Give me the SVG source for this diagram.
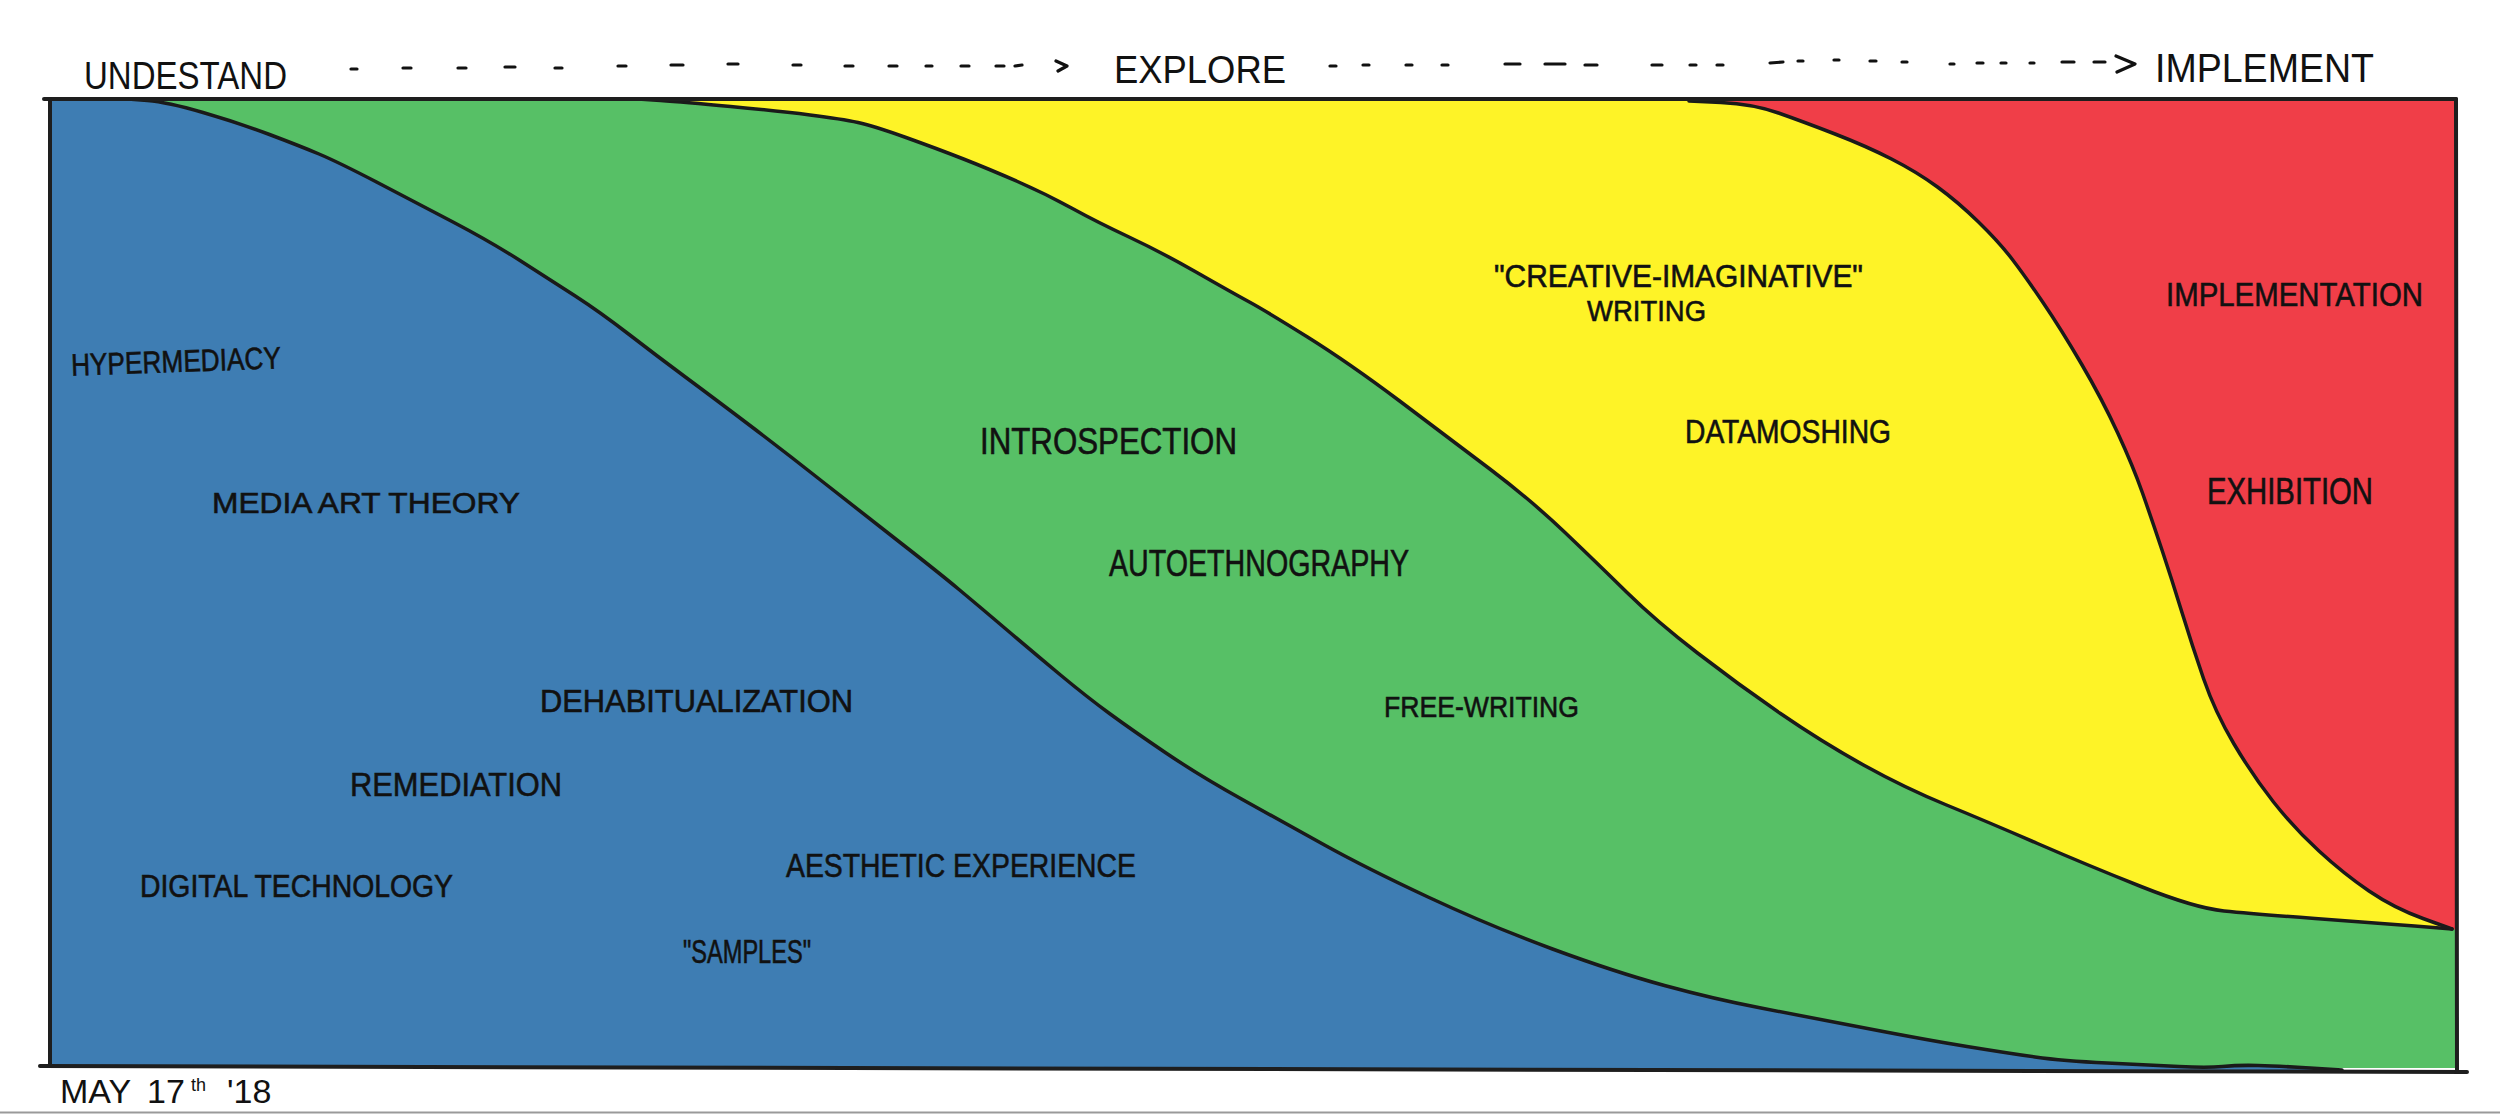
<svg xmlns="http://www.w3.org/2000/svg" width="2500" height="1114" viewBox="0 0 2500 1114">
<style>
.lbl{font-family:"Liberation Sans",Arial,sans-serif;fill:#111}
.node{stroke:#111;stroke-width:0.6}
.edge{fill:none;stroke:#1a1a1a;stroke-width:3.5;stroke-linejoin:round;stroke-linecap:round}
.frame{fill:none;stroke:#1e1e1e;stroke-width:4;stroke-linecap:round}
.dash{fill:none;stroke:#111;stroke-width:3.2;stroke-linecap:round;stroke-linejoin:round}
</style>
<rect width="2500" height="1114" fill="#ffffff"/>
<line x1="0" y1="1112.5" x2="2500" y2="1112.5" stroke="#9a9a9a" stroke-width="2"/>

<g id="regions">
  <rect id="region-explore-green" x="50" y="99" width="2406" height="969" fill="#57c066"/>
  <path id="region-explore-yellow" fill="#fef327" d="M638,99 L660.5,100.5 Q683,102 730.5,106.5 Q778,111 810,115 Q842,119 858,122.5 Q874,126 906,137.5 Q938,149 963.5,159 Q989,169 1017.5,181.5 Q1046,194 1071.5,208 Q1097,222 1129,237 Q1161,252 1196,272 Q1231,292 1248.5,301.5 Q1266,311 1307.5,337 Q1349,363 1399,400.5 Q1449,438 1490.5,469.5 Q1532,501 1565,532.5 Q1598,564 1627,592.5 Q1656,621 1697.5,653 Q1739,685 1780.5,713.5 Q1822,742 1863.5,765 Q1905,788 1946.5,805 Q1988,822 2037.5,843.5 Q2087,865 2141,886.5 Q2195,908 2224,911 Q2253,914 2315,918.5 Q2377,923 2414.5,926 L2456,929 L2456,99 Z"/>
  <path id="region-implement-red" fill="#f03e48" d="M1689,99 L1689,101 L1721,102.5 Q1753,104 1778.5,113 Q1804,122 1835,134 Q1866,146 1891.5,159 Q1917,172 1937.5,187 Q1958,202 1978.5,222 Q1999,242 2012,259 Q2025,276 2043,302.5 Q2061,329 2081.5,364 Q2102,399 2117.5,432.5 Q2133,466 2142.5,493 Q2152,520 2162,550 Q2172,580 2182,612.5 Q2192,645 2203.5,678.5 Q2215,712 2234,744 Q2253,776 2273.5,802 Q2294,828 2319,851 Q2344,874 2369,891 Q2394,908 2423,918.5 L2456,930 L2456,99 Z"/>
  <path id="region-understand-blue" fill="#3e7db3" d="M50,99 L128,99 L147.5,100.5 Q167,102 203,112.5 Q239,123 269.5,134.5 Q300,146 319,154 Q338,162 376.5,182 Q415,202 453,222 Q491,242 520,260.5 Q549,279 574.5,295.5 Q600,312 628.5,334 Q657,356 686,377.5 Q715,399 750,425.5 Q785,452 823,482 Q861,512 899.5,542 Q938,572 959,589.5 Q980,607 1007,630 Q1034,653 1060.5,675 Q1087,697 1109.5,713.5 Q1132,730 1166,753 Q1200,776 1241.5,799 Q1283,822 1324.5,845 Q1366,868 1428,897 Q1490,926 1552.5,949 Q1615,972 1664.5,985.5 Q1714,999 1761,1008 Q1808,1017 1867.5,1028.5 Q1927,1040 1967,1046.5 Q2007,1053 2035,1057 Q2063,1061 2107,1063 Q2151,1065 2179,1066.5 Q2207,1068 2222.5,1066.5 Q2238,1065 2258,1065.5 Q2278,1066 2310,1068 L2342,1070 L50,1066 Z"/>
</g>

<g id="connectors">
  <path id="edge-blue-green" class="edge" d="M128,99 L147.5,100.5 Q167,102 203,112.5 Q239,123 269.5,134.5 Q300,146 319,154 Q338,162 376.5,182 Q415,202 453,222 Q491,242 520,260.5 Q549,279 574.5,295.5 Q600,312 628.5,334 Q657,356 686,377.5 Q715,399 750,425.5 Q785,452 823,482 Q861,512 899.5,542 Q938,572 959,589.5 Q980,607 1007,630 Q1034,653 1060.5,675 Q1087,697 1109.5,713.5 Q1132,730 1166,753 Q1200,776 1241.5,799 Q1283,822 1324.5,845 Q1366,868 1428,897 Q1490,926 1552.5,949 Q1615,972 1664.5,985.5 Q1714,999 1761,1008 Q1808,1017 1867.5,1028.5 Q1927,1040 1967,1046.5 Q2007,1053 2035,1057 Q2063,1061 2107,1063 Q2151,1065 2179,1066.5 Q2207,1068 2222.5,1066.5 Q2238,1065 2258,1065.5 Q2278,1066 2310,1068 L2342,1070"/>
  <path id="edge-green-yellow" class="edge" d="M638,99 L660.5,100.5 Q683,102 730.5,106.5 Q778,111 810,115 Q842,119 858,122.5 Q874,126 906,137.5 Q938,149 963.5,159 Q989,169 1017.5,181.5 Q1046,194 1071.5,208 Q1097,222 1129,237 Q1161,252 1196,272 Q1231,292 1248.5,301.5 Q1266,311 1307.5,337 Q1349,363 1399,400.5 Q1449,438 1490.5,469.5 Q1532,501 1565,532.5 Q1598,564 1627,592.5 Q1656,621 1697.5,653 Q1739,685 1780.5,713.5 Q1822,742 1863.5,765 Q1905,788 1946.5,805 Q1988,822 2037.5,843.5 Q2087,865 2141,886.5 Q2195,908 2224,911 Q2253,914 2315,918.5 Q2377,923 2414.5,926 L2452,929"/>
  <path id="edge-yellow-red" class="edge" d="M1689,101 L1721,102.5 Q1753,104 1778.5,113 Q1804,122 1835,134 Q1866,146 1891.5,159 Q1917,172 1937.5,187 Q1958,202 1978.5,222 Q1999,242 2012,259 Q2025,276 2043,302.5 Q2061,329 2081.5,364 Q2102,399 2117.5,432.5 Q2133,466 2142.5,493 Q2152,520 2162,550 Q2172,580 2182,612.5 Q2192,645 2203.5,678.5 Q2215,712 2234,744 Q2253,776 2273.5,802 Q2294,828 2319,851 Q2344,874 2369,891 Q2394,908 2423,918.5 L2452,929"/>
  <g id="frame">
    <line class="frame" x1="44" y1="99" x2="2456" y2="99"/>
    <line class="frame" x1="50" y1="99" x2="50" y2="1066" stroke-width="3"/>
    <line class="frame" x1="40" y1="1066" x2="2467" y2="1072" stroke-width="4.5"/>
    <line class="frame" x1="2456" y1="99" x2="2457" y2="1072" stroke-width="3"/>
  </g>
  <path id="arrow-understand-explore" class="dash" d="M351,69 L357,69 M403,68 L411,68 M458,68 L466,68 M505,67 L515,67 M555,68 L562,68 M618,66 L626,66 M671,65 L683,65 M728,64 L738,64 M793,65 L801,65 M845,66 L853,66 M889,66 L897,66 M926,66 L932,66 M961,66 L969,66 M996,66 L1004,66 M1015,66 L1022,65 M1056,61 L1067,66 L1058,71"/>
  <path id="arrow-explore-implement" class="dash" d="M1330,66 L1336,66 M1363,65 L1369,65 M1406,65 L1412,65 M1442,65 L1448,65 M1505,64 L1520,64 M1545,64 L1565,64 M1585,65 L1597,65 M1652,65 L1662,65 M1690,65 L1696,65 M1717,65 L1723,65 M1770,63 L1783,62 M1798,61 L1803,61 M1834,60 L1839,60 M1870,61 L1876,61 M1902,62 L1907,62 M1950,64 L1954,64 M1977,63 L1983,63 M2001,63 L2006,63 M2030,63 L2034,63 M2062,62 L2074,62 M2094,62 L2105,62 M2116,56 L2135,64 L2117,72"/>
</g>

<g id="header">
  <text id="label-undestand" class="lbl" x="84" y="89" font-size="39" textLength="203" lengthAdjust="spacingAndGlyphs">UNDESTAND</text>
  <text id="label-explore" class="lbl" x="1114" y="83" font-size="39" textLength="172" lengthAdjust="spacingAndGlyphs">EXPLORE</text>
  <text id="label-implement" class="lbl" x="2155" y="82" font-size="40" textLength="219" lengthAdjust="spacingAndGlyphs">IMPLEMENT</text>
</g>

<g id="node-hypermediacy"><text class="lbl node" x="71" y="372" font-size="31" textLength="210" lengthAdjust="spacingAndGlyphs" transform="rotate(-2 176 362)">HYPERMEDIACY</text></g>
<g id="node-media-art-theory"><text class="lbl node" x="212" y="513" font-size="30" textLength="308" lengthAdjust="spacingAndGlyphs">MEDIA ART THEORY</text></g>
<g id="node-dehabitualization"><text class="lbl node" x="540" y="712" font-size="32" textLength="313" lengthAdjust="spacingAndGlyphs">DEHABITUALIZATION</text></g>
<g id="node-remediation"><text class="lbl node" x="350" y="796" font-size="34" textLength="212" lengthAdjust="spacingAndGlyphs">REMEDIATION</text></g>
<g id="node-digital-technology"><text class="lbl node" x="140" y="897" font-size="31" textLength="313" lengthAdjust="spacingAndGlyphs">DIGITAL TECHNOLOGY</text></g>
<g id="node-aesthetic-experience"><text class="lbl node" x="786" y="877" font-size="34" textLength="350" lengthAdjust="spacingAndGlyphs">AESTHETIC EXPERIENCE</text></g>
<g id="node-samples"><text class="lbl node" x="683" y="963" font-size="33" textLength="128" lengthAdjust="spacingAndGlyphs">"SAMPLES"</text></g>
<g id="node-introspection"><text class="lbl node" x="980" y="454" font-size="37" textLength="257" lengthAdjust="spacingAndGlyphs">INTROSPECTION</text></g>
<g id="node-autoethnography"><text class="lbl node" x="1109" y="576" font-size="37" textLength="300" lengthAdjust="spacingAndGlyphs">AUTOETHNOGRAPHY</text></g>
<g id="node-free-writing"><text class="lbl node" x="1384" y="717" font-size="30" textLength="195" lengthAdjust="spacingAndGlyphs">FREE-WRITING</text></g>
<g id="node-creative-writing">
  <text class="lbl node" x="1494" y="287" font-size="31" textLength="369" lengthAdjust="spacingAndGlyphs">"CREATIVE-IMAGINATIVE"</text>
  <text class="lbl node" x="1587" y="321" font-size="30" textLength="119" lengthAdjust="spacingAndGlyphs">WRITING</text>
</g>
<g id="node-datamoshing"><text class="lbl node" x="1685" y="443" font-size="33" textLength="206" lengthAdjust="spacingAndGlyphs">DATAMOSHING</text></g>
<g id="node-implementation"><text class="lbl node" x="2166" y="306" font-size="34" textLength="257" lengthAdjust="spacingAndGlyphs">IMPLEMENTATION</text></g>
<g id="node-exhibition"><text class="lbl node" x="2207" y="504" font-size="36" textLength="166" lengthAdjust="spacingAndGlyphs">EXHIBITION</text></g>

<g id="date">
  <text class="lbl" y="1103" font-size="34"><tspan x="60">MAY</tspan><tspan x="147">17</tspan><tspan x="191" dy="-12" font-size="18">th</tspan><tspan x="227" dy="12">'18</tspan></text>
</g>
</svg>
